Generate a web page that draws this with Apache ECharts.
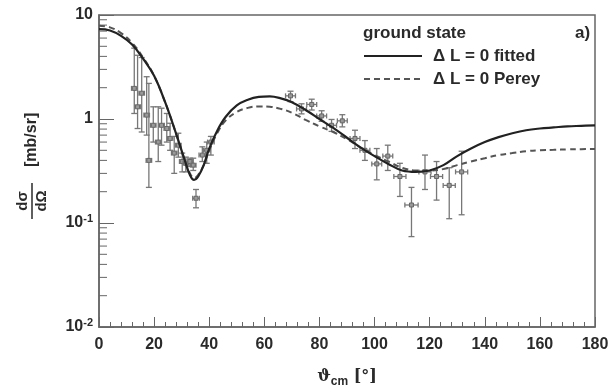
<!DOCTYPE html>
<html><head><meta charset="utf-8">
<script src="https://cdn.jsdelivr.net/npm/echarts@6/dist/echarts.min.js"></script>
<style>html,body{margin:0;padding:0;background:#fff}#c{width:611px;height:390px}</style>
</head><body><div id="c"></div>
<script>
// Curve samples (angle in degrees, cross section mb/sr)
const fitAngles = [0,4,8,12,16,20,24,28,31,33,34.5,36,38,40,43,46,50,54,58,62,66,70,75,80,85,90,95,100,105,110,115,120,125,130,135,140,145,150,155,160,165,170,175,180];
const fitValues = [7.3,7.1,6.3,5.2,3.8,2.6,1.45,0.72,0.41,0.29,0.26,0.28,0.36,0.52,0.78,1.05,1.35,1.53,1.63,1.65,1.58,1.45,1.22,1.0,0.82,0.66,0.53,0.44,0.37,0.32,0.31,0.32,0.36,0.44,0.52,0.6,0.67,0.73,0.78,0.81,0.83,0.85,0.86,0.87];
const pereyAngles = [0,4,8,12,16,20,24,28,31,33,34.5,36,38,40,43,46,50,54,58,62,66,70,75,80,85,90,95,100,105,110,115,120,125,130,135,140,145,150,155,160,165,170,175,180];
const pereyValues = [7.9,7.6,6.7,5.4,3.9,2.6,1.45,0.72,0.41,0.3,0.27,0.29,0.36,0.5,0.74,0.97,1.17,1.28,1.32,1.31,1.25,1.15,0.98,0.85,0.75,0.64,0.53,0.45,0.39,0.34,0.32,0.32,0.33,0.36,0.39,0.42,0.45,0.47,0.49,0.5,0.505,0.51,0.513,0.515];
// Measured data
const dataAngles = [12.8,14.0,15.5,17.3,18.1,19.7,21.5,22.7,24.6,25.8,27.3,28.8,30.2,31.5,33.0,34.2,35.2,37.5,39.1,40.6,
  69.5,73.5,77.2,80.8,84.4,88.3,92.9,96.5,100.8,104.8,109.2,113.4,118.3,122.5,127.1,131.6];
const dataValues = [1.97,1.31,1.77,1.09,0.40,0.87,0.60,0.87,0.81,0.65,0.47,0.56,0.39,0.375,0.39,0.36,0.173,0.45,0.50,0.60,
  1.67,1.25,1.38,1.07,0.87,0.96,0.65,0.50,0.37,0.44,0.28,0.149,0.31,0.28,0.23,0.31];
const dataLow = [1.13,0.81,0.75,0.70,0.22,0.60,0.39,0.56,0.60,0.50,0.30,0.43,0.31,0.31,0.35,0.32,0.14,0.39,0.375,0.45,
  1.47,1.12,1.22,0.95,0.76,0.84,0.52,0.40,0.26,0.32,0.18,0.074,0.21,0.166,0.11,0.12];
const dataHigh = [4.8,4.1,3.9,2.55,2.2,1.31,1.31,1.27,1.13,0.91,0.68,0.73,0.47,0.43,0.42,0.42,0.21,0.54,0.60,0.68,
  1.85,1.40,1.55,1.20,0.99,1.1,0.78,0.62,0.52,0.56,0.375,0.22,0.45,0.39,0.34,0.49];
const dataAngErr = [1.0,1.0,1.0,1.0,1.0,1.0,1.0,1.0,1.0,1.0,1.0,1.0,1.0,1.0,1.0,1.0,1.2,1.2,1.2,1.2,
  1.8,1.8,1.8,1.8,1.8,1.8,1.8,1.8,1.8,1.8,2.2,2.4,2.2,2.2,2.2,2.2];
const xTicks = [0,20,40,60,80,100,120,140,160,180];
const yMinorTicks = [0.02,0.03,0.04,0.05,0.06,0.07,0.08,0.09,0.2,0.3,0.4,0.5,0.6,0.7,0.8,0.9,2,3,4,5,6,7,8,9];

const FONT = '"Liberation Sans", Arial, Helvetica, sans-serif';
const TXT = '#2a2a2a';
const chart = echarts.init(document.getElementById('c'), null, {renderer: 'canvas'});

const errData = dataAngles.map((a, i) => [a, dataValues[i], dataLow[i], dataHigh[i], dataAngErr[i]]);

const option = {
  animation: false,
  backgroundColor: '#fff',
  grid: {left: 99, right: 16, top: 15, bottom: 63, containLabel: false, outerBoundsMode: 'none',
    show: true, borderColor: '#666', borderWidth: 1.5, backgroundColor: 'transparent'},
  title: [
    {text: 'ground state', left: 358, top: 20, textStyle: {fontFamily: FONT, fontSize: 17, fontWeight: 'bold', color: TXT}},
    {text: 'a)', left: 570, top: 20, textStyle: {fontFamily: FONT, fontSize: 17, fontWeight: 'bold', color: TXT}}
  ],
  legend: {
    orient: 'vertical', left: 358, top: 42, itemWidth: 58, itemHeight: 12, itemGap: 5,
    itemStyle: {opacity: 0},
    textStyle: {fontFamily: FONT, fontSize: 17, fontWeight: 'bold', color: TXT, lineHeight: 18, padding: [0,0,0,6]},
    data: ['\u0394 L = 0 fitted', '\u0394 L = 0 Perey']
  },
  xAxis: {
    type: 'value', min: 0, max: 180, interval: 20,
    axisLine: {show: true, lineStyle: {color: '#666', width: 1.5}},
    axisTick: {show: true, inside: true, length: 10, lineStyle: {color: '#666'}},
    minorTick: {show: true, splitNumber: 5, length: 5, lineStyle: {color: '#666'}},
    splitLine: {show: false},
    axisLabel: {margin: 10, fontFamily: FONT, fontSize: 16, fontWeight: 'bold', color: TXT,
      formatter: v => xTicks.indexOf(v) >= 0 ? String(v) : ''},
    name: '{a|\u03D1}{c|cm}{a| [\u00B0]}', nameLocation: 'middle', nameGap: 39,
    nameTextStyle: {rich: {
      a: {fontFamily: 'DejaVu Serif, serif', fontSize: 16, color: TXT, fontWeight: 'bold'},
      c: {fontFamily: FONT, fontSize: 12, fontWeight: 'bold', color: TXT, padding: [10,0,0,0]}
    }}
  },
  yAxis: {
    type: 'log', logBase: 10, min: 0.01, max: 10,
    axisLine: {show: true, lineStyle: {color: '#666', width: 1.5}},
    axisTick: {show: true, inside: true, length: 15, lineStyle: {color: '#666'}},
    splitLine: {show: false},
    axisLabel: {margin: 6, fontFamily: FONT, fontSize: 16, fontWeight: 'bold', color: TXT,
      formatter: v => {
        if (Math.abs(v - 10) < 1e-6) return '10';
        if (Math.abs(v - 1) < 1e-6) return '1';
        if (Math.abs(v - 0.1) < 1e-7) return '{b|10}{s|-1}';
        if (Math.abs(v - 0.01) < 1e-8) return '{b|10}{s|-2}';
        return '';
      },
      rich: {
        b: {fontFamily: FONT, fontSize: 16, fontWeight: 'bold', color: TXT},
        s: {fontFamily: FONT, fontSize: 11, fontWeight: 'bold', color: TXT, padding: [0,0,9,0]}
      }
    }
  },
  graphic: [{
    type: 'group', x: 32, y: 221, rotation: Math.PI / 2,
    children: [
      {type: 'text', x: 20, y: -9, style: {text: 'd\u03C3', font: 'bold 15px ' + FONT, fill: TXT, textAlign: 'center', textVerticalAlign: 'middle'}},
      {type: 'line', shape: {x1: 2, y1: 0, x2: 38, y2: 0}, style: {stroke: TXT, lineWidth: 1.5}},
      {type: 'text', x: 20, y: 10, style: {text: 'd\u03A9', font: 'bold 15px ' + FONT, fill: TXT, textAlign: 'center', textVerticalAlign: 'middle'}},
      {type: 'text', x: 54, y: 0, style: {text: '[mb/sr]', font: 'bold 16px ' + FONT, fill: TXT, textAlign: 'left', textVerticalAlign: 'middle'}}
    ]
  }],
  series: [
    {
      name: 'yminor', type: 'custom', silent: true, z: 1,
      data: yMinorTicks.map(v => [0, v]),
      renderItem: (params, api) => {
        const p = api.coord([api.value(0), api.value(1)]);
        return {type: 'line', shape: {x1: p[0], y1: p[1], x2: p[0] + 8, y2: p[1]}, style: {stroke: '#666', lineWidth: 1}};
      }
    },
    {
      name: '\u0394 L = 0 fitted', type: 'line', smooth: 0.4, symbol: 'none', z: 5,
      data: fitAngles.map((a, i) => [a, fitValues[i]]),
      lineStyle: {color: '#222', width: 2.2}, itemStyle: {color: '#222'}
    },
    {
      name: '\u0394 L = 0 Perey', type: 'line', smooth: 0.4, symbol: 'none', z: 4,
      data: pereyAngles.map((a, i) => [a, pereyValues[i]]),
      lineStyle: {color: '#555', width: 2, type: [6, 4]}, itemStyle: {color: '#555'}
    },
    {
      name: 'data', type: 'custom', z: 3,
      data: errData,
      renderItem: (params, api) => {
        const x = api.value(0), y = api.value(1), lo = api.value(2), hi = api.value(3), dx = api.value(4);
        const p = api.coord([x, y]);
        const pl = api.coord([x, lo]);
        const ph = api.coord([x, hi]);
        const pa = api.coord([x - dx, y]);
        const pb = api.coord([x + dx, y]);
        const st = {stroke: '#777', lineWidth: 1.3, fill: null};
        const c = 3;
        return {type: 'group', children: [
          {type: 'line', shape: {x1: p[0], y1: pl[1], x2: p[0], y2: ph[1]}, style: st},
          {type: 'line', shape: {x1: p[0] - c, y1: pl[1], x2: p[0] + c, y2: pl[1]}, style: st},
          {type: 'line', shape: {x1: p[0] - c, y1: ph[1], x2: p[0] + c, y2: ph[1]}, style: st},
          {type: 'line', shape: {x1: pa[0], y1: p[1], x2: pb[0], y2: p[1]}, style: st},
          {type: 'line', shape: {x1: pa[0], y1: p[1] - 2.5, x2: pa[0], y2: p[1] + 2.5}, style: st},
          {type: 'line', shape: {x1: pb[0], y1: p[1] - 2.5, x2: pb[0], y2: p[1] + 2.5}, style: st},
          {type: 'rect', shape: {x: p[0] - 2, y: p[1] - 2, width: 4, height: 4}, style: {stroke: '#666', lineWidth: 1, fill: '#999'}}
        ]};
      }
    }
  ]
};
chart.setOption(option);
</script>
</body></html>
